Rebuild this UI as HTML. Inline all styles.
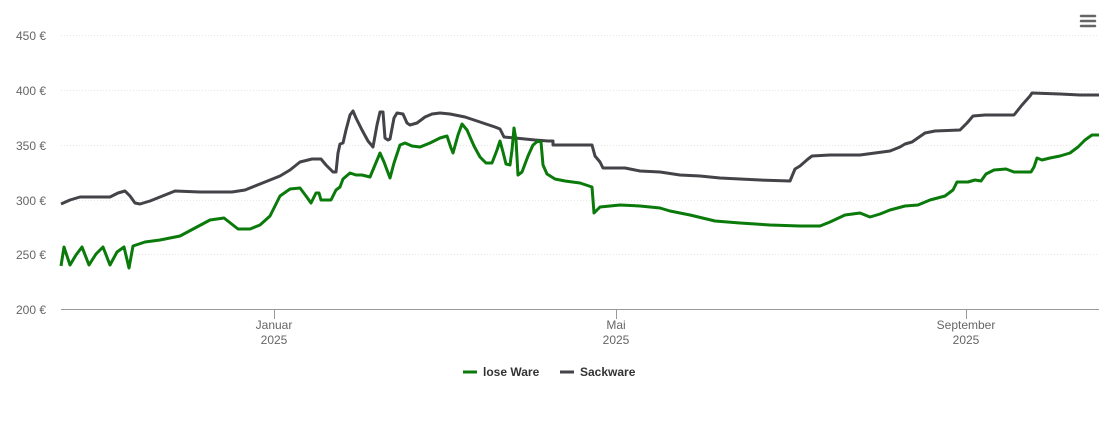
<!DOCTYPE html>
<html><head><meta charset="utf-8"><style>
body{margin:0;background:#fff;}
svg text{font-family:"Liberation Sans",sans-serif;}
</style></head><body>
<svg width="1110" height="422" viewBox="0 0 1110 422" xmlns="http://www.w3.org/2000/svg">
<g stroke="#e6e6e6" stroke-width="1" stroke-dasharray="1,2">
<line x1="61" y1="35.5" x2="1099" y2="35.5"/>
<line x1="61" y1="90.5" x2="1099" y2="90.5"/>
<line x1="61" y1="145.5" x2="1099" y2="145.5"/>
<line x1="61" y1="200.5" x2="1099" y2="200.5"/>
<line x1="61" y1="254.5" x2="1099" y2="254.5"/>
</g>
<line x1="61" y1="309.5" x2="1099" y2="309.5" stroke="#999" stroke-width="1"/>
<g stroke="#999"><line x1="274.5" y1="309" x2="274.5" y2="319"/><line x1="616.5" y1="309" x2="616.5" y2="319"/><line x1="966.5" y1="309" x2="966.5" y2="319"/></g>
<g font-size="12" fill="#666" text-anchor="end">
<text x="46" y="40">450 €</text><text x="46" y="95">400 €</text><text x="46" y="150">350 €</text>
<text x="46" y="205">300 €</text><text x="46" y="259">250 €</text><text x="46" y="314">200 €</text>
</g>
<g font-size="12" fill="#666" text-anchor="middle">
<text x="274" y="329">Januar</text><text x="274" y="344">2025</text>
<text x="616" y="329">Mai</text><text x="616" y="344">2025</text>
<text x="966" y="329">September</text><text x="966" y="344">2025</text>
</g>
<polyline fill="none" stroke="#434348" stroke-width="3" stroke-linejoin="round" points="61,204 70,200 80,197 110,197 118,193 125,191 130,196 135,203 140,204 150,201 160,197 175,191 200,192 232,192 245,190 260,184 280,176 290,170 300,162 312,159 321,159 326,165 333,172 336,172 338,153 340,144 343,143 346,130 350,115 353,111 356,118 362,130 368,141 373,147 377,125 380,112 383,112 385,138 388,140 390,139 394,118 397,113 403,114 407,123 410,125 417,123 425,117 432,114 440,113 450,114 465,117 480,122 495,127 500,129 504,137 515,138 535,140 548,141 553,141 553,145 592,145 595,156 600,162 603,168 615,168 625,168 640,171 660,172 680,175 700,176 720,178 760,180 790,181 795,169 800,166 808,159 812,156 830,155 860,155 875,153 890,151 900,147 905,144 912,142 925,133 935,131 960,130 967,123 973,116 985,115 1014,115 1022,105 1030,96 1032,93 1060,94 1080,95 1099,95"/>
<polyline fill="none" stroke="#0a7a0a" stroke-width="3" stroke-linejoin="round" points="61,266 64,247 70,265 76,255 82,247 89,265 96,254 103,247 110,265 117,252 124,247 129,268 133,246 145,242 160,240 180,236 195,228 210,220 224,218 238,229 250,229 260,225 270,216 280,196 290,189 300,188 306,196 311,203 316,193 319,193 321,200 331,200 336,190 340,187 343,179 350,173 356,175 362,175 370,177 375,165 380,153 384,162 390,178 394,163 400,145 405,143 412,146 420,147 430,143 440,138 447,136 451,148 453,153 458,135 462,124 467,130 474,146 480,157 486,163 492,163 497,150 500,141 503,152 506,164 510,165 512,150 514,128 516,140 518,175 522,172 528,156 533,145 538,141 541,142 543,165 547,174 555,179 565,181 580,183 592,187 594,213 600,207 620,205 640,206 660,208 670,211 690,215 715,221 740,223 770,225 800,226 820,226 830,222 845,215 860,213 870,217 880,214 890,210 905,206 918,205 930,200 945,196 953,190 957,182 968,182 975,180 981,181 986,174 994,170 1006,169 1014,172 1031,172 1034,167 1037,158 1042,160 1050,158 1060,156 1070,153 1078,147 1085,140 1092,135 1099,135"/>
<g stroke="#666" stroke-width="2.5" stroke-linecap="round"><line x1="1081" y1="16" x2="1095" y2="16"/><line x1="1081" y1="21" x2="1095" y2="21"/><line x1="1081" y1="26" x2="1095" y2="26"/></g>
<line x1="463" y1="372" x2="477" y2="372" stroke="#0a7a0a" stroke-width="3"/>
<text x="483" y="376" font-size="12" font-weight="bold" fill="#333">lose Ware</text>
<line x1="560" y1="372" x2="574" y2="372" stroke="#434348" stroke-width="3"/>
<text x="580" y="376" font-size="12" font-weight="bold" fill="#333">Sackware</text>
</svg>
</body></html>
